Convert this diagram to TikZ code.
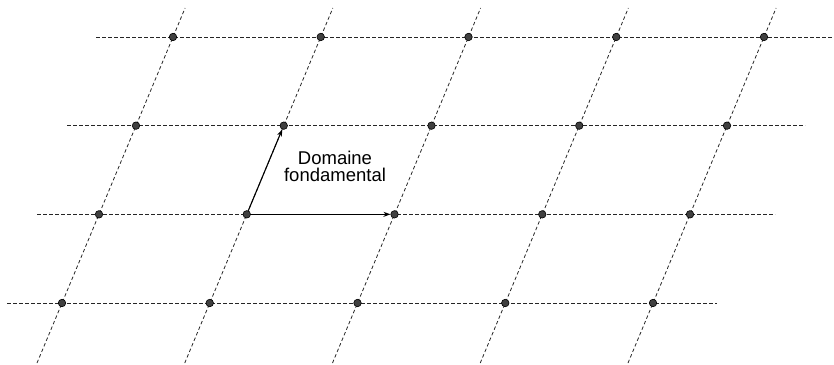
\documentclass[tikz,border=0pt]{standalone}
\usepackage{fontspec}
\setmainfont{Liberation Sans}
\usetikzlibrary{arrows.meta}
\begin{document}
\begin{tikzpicture}[x=1pt,y=-1pt,
  dline/.style={dash pattern=on 3.5pt off 2.5pt, line width=0.8pt, black!85},
  dot/.style={circle, draw=black, line width=0.6pt, fill=black!75, inner sep=0pt, minimum size=7.5pt},
  vec/.style={line width=1.1pt, -{Stealth[length=7pt,width=5pt]}},
  lbl/.style={align=center, inner sep=0pt, font=\fontsize{18.5pt}{17pt}\selectfont}]
\useasboundingbox (0,0) rectangle (834,364);
% horizontal lattice lines
\foreach \j/\xa/\xb in {0/7/717,1/37/775,2/67/805,3/96/834}{
  \coordinate (hl-\j) at (\xa, {303-88.67*\j});
  \coordinate (hr-\j) at (\xb, {303-88.67*\j});
  \draw[dline] (hl-\j) -- (hr-\j);
}
% slanted lattice lines
\foreach \i in {0,...,4}{
  \coordinate (vb-\i) at ({37+147.75*\i}, 363);
  \coordinate (vt-\i) at ({185.1+147.75*\i}, 8);
  \draw[dline] (vb-\i) -- (vt-\i);
}
% lattice points
\foreach \i in {0,...,4}{
  \foreach \j in {0,...,3}{
    \node[dot] (p-\i-\j) at ({62+147.75*\i+37*\j}, {303-88.67*\j}) {};
  }
}
\draw[vec] (p-1-1) -- (p-2-1);
\draw[vec] (p-1-1) -- (p-1-2);
\node[lbl, anchor=north] (label) at (335,151) {Domaine\\fondamental};
\end{tikzpicture}
\end{document}
